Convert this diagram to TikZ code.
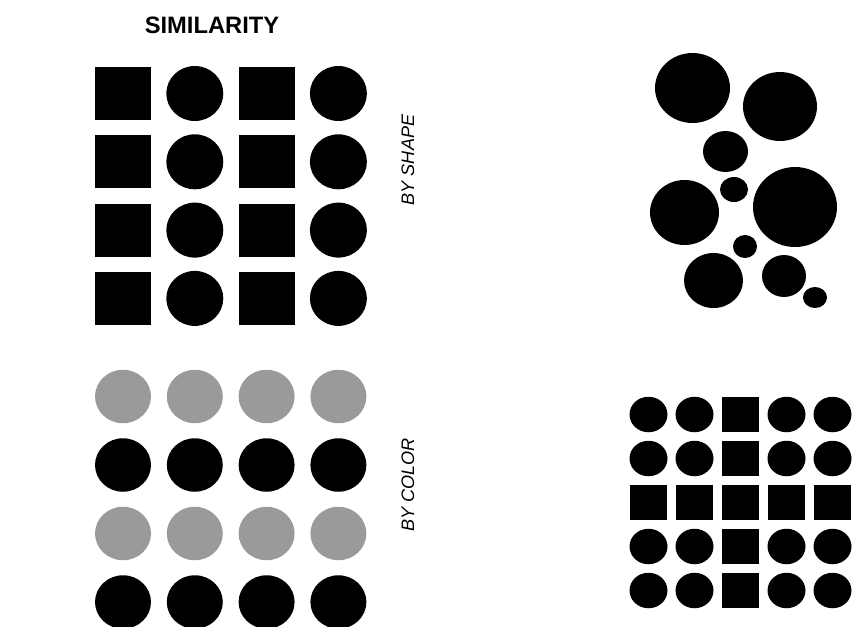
\documentclass[tikz,border=0pt]{standalone}
\usepackage{fontspec}
\setmainfont{Liberation Sans}
\usetikzlibrary{shapes.geometric}
\definecolor{shadegray}{HTML}{9A9A9A}
\begin{document}
\begin{tikzpicture}[x=0.02cm, y=-0.02cm,
			sq/.style={rectangle, fill=black, inner sep=0pt, minimum width=1.12cm, minimum height=1.06cm},
			dot/.style={ellipse, fill=black, inner sep=0pt, minimum width=1.14cm, minimum height=1.10cm},
			cdot/.style={ellipse, fill=#1, inner sep=0pt, minimum width=1.12cm, minimum height=1.07cm},
			blob/.style={ellipse, fill=black, inner sep=0pt},
			tsq/.style={rectangle, fill=black, inner sep=0pt, minimum width=0.74cm, minimum height=0.70cm},
			tdot/.style={ellipse, fill=black, inner sep=0pt, minimum width=0.76cm, minimum height=0.71cm},
			side/.style={rotate=90, font=\fontsize{10.3}{12}\selectfont\itshape},
		]
		\useasboundingbox (0,0) rectangle (859,626);

		\node[font=\fontsize{13.5}{16}\selectfont\bfseries] (title) at (212,25) {SIMILARITY};

		% by shape
		\foreach \r in {1,...,4}
			\foreach \c in {1,...,4} {
				\ifodd\c \def\kind{sq}\else\def\kind{dot}\fi
				\node[\kind] (s\r\c) at ({51.2+71.8*\c}, {25.2+68.3*\r}) {};
			}
		\node[side] (byshape) at (408,160) {BY SHAPE};

		% by color
		\foreach \r in {1,...,4}
			\foreach \c in {1,...,4} {
				\ifodd\r \def\tone{shadegray}\else\def\tone{black}\fi
				\node[cdot=\tone] (k\r\c) at ({51.2+71.8*\c}, {328+68.5*\r}) {};
			}
		\node[side] (bycolor) at (408,485) {BY COLOR};

		% cluster of dots
		\foreach \n/\x/\y/\w/\h in {1/692.5/88/75/70, 2/780/106.5/74/69, 3/725.5/151.5/45/41,
				4/734/189.5/28/25, 5/684.5/212.5/69/65, 6/795/207/84/80, 7/745/246.5/24/23,
				8/713.5/280.5/59/55, 9/784/276/44/42, 10/815/297.5/24/21}
			\node[blob, minimum width=0.2mm*\w, minimum height=0.2mm*\h] (b\n) at (\x,\y) {};

		% grid with a cross of squares
		\foreach \r in {1,...,5}
			\foreach \c in {1,...,5} {
				\ifnum\r=3 \def\kind{tsq}\else\ifnum\c=3 \def\kind{tsq}\else\def\kind{tdot}\fi\fi
				\node[\kind] (g\r\c) at ({602.5+46*\c}, {370.5+44*\r}) {};
			}
	\end{tikzpicture}
\end{document}
